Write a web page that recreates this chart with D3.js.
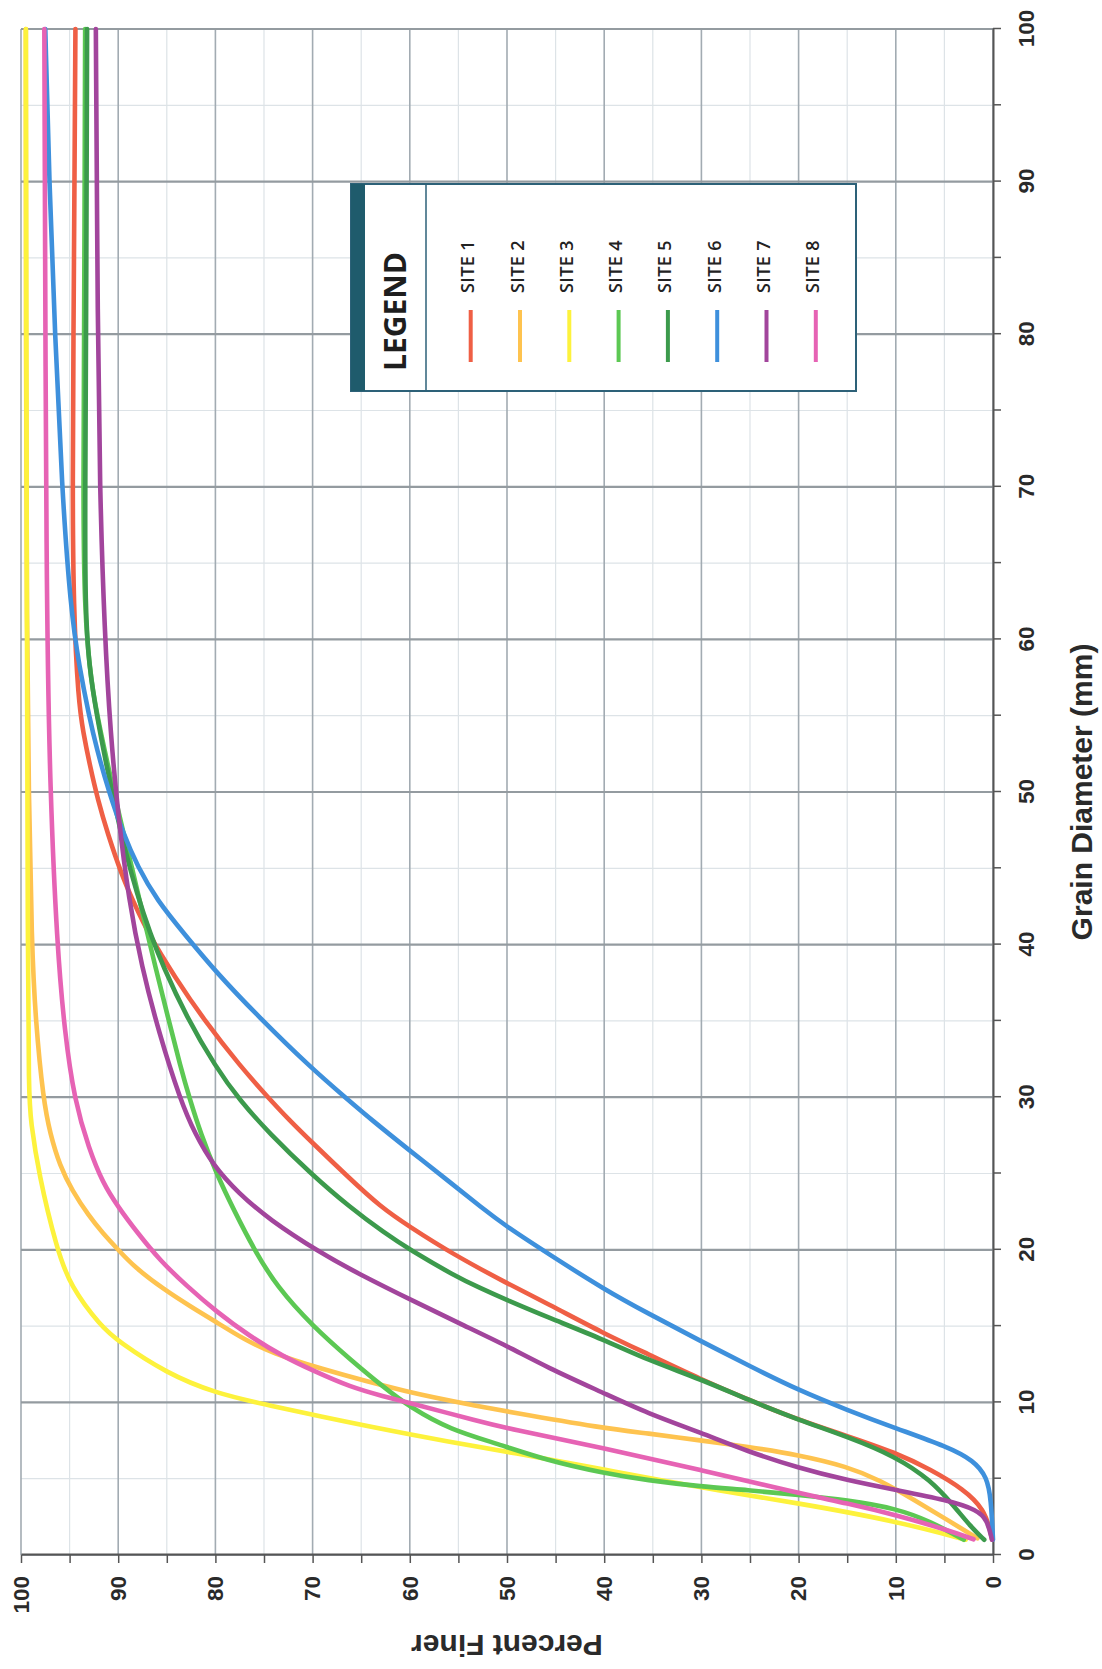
<!DOCTYPE html>
<html><head><meta charset="utf-8">
<script src="https://cdn.jsdelivr.net/npm/d3@7"></script>
<style>body{margin:0;background:#fff}</style>
</head><body>
<svg id="chart" width="1102" height="1669"></svg>
<script>
// ---------- data: [grain diameter (mm), percent finer] ----------
const siteNames = ["SITE 1","SITE 2","SITE 3","SITE 4","SITE 5","SITE 6","SITE 7","SITE 8"];
const siteColors = ["#ef5f45","#fec34f","#fdf23c","#5cc853","#3c9a4c","#3e90dc","#a2459c","#e663b4"];
const gridTicks = [0,5,10,15,20,25,30,35,40,45,50,55,60,65,70,75,80,85,90,95,100];
const labelTicks = [0,10,20,30,40,50,60,70,80,90,100];

const site1 = [[1.0,0.1],[1.4,0.2],[3.0,0.9],[4.3,3],[5.6,6.4],[6.7,10],[7.8,15],[8.85,20],[10.2,25.3],[11.5,30],[13.2,35.6],[14.5,40],[16.5,45.9],[17.8,50],[19.8,55.8],[21.5,60],[22.8,63.0],[24.8,66.4],[27,70.0],[28.5,72.4],[30,74.6],[32,77.4],[35,81.1],[37.9,84.2],[40.7,86.9],[42.9,88.5],[44.5,89.6],[47.3,91.1],[49.5,92.1],[51.7,92.9],[53.9,93.6],[56,94.1],[62,94.6],[70,94.7],[80,94.6],[90,94.5],[100,94.4]];
const site2 = [[1.1,1.6],[2.3,4.7],[3.6,8.1],[4.9,11.6],[5.8,15],[6.56,20],[7.1,25.3],[7.5,30],[7.98,35.6],[8.3,40],[9.4,50],[9.73,52.7],[10.6,60],[12.35,70],[13.2,74],[14.1,77],[15.3,80],[16.3,82.6],[17.4,85.3],[18.9,88.4],[20,90],[21.1,91.6],[22.2,93.0],[23.9,94.75],[25.5,96],[27.6,97],[29.8,97.7],[35,98.5],[40,98.9],[50,99.2],[60,99.4],[80,99.5],[100,99.5]];
const site3 = [[1.0,2.8],[2.2,9.8],[3.4,20],[4.4,30],[5.6,40],[6.6,48.5],[7.87,60],[9.18,70],[9.84,74.7],[10.6,80],[11.9,85],[14,90],[15,91.8],[17.6,94.9],[20,96.3],[25,98.2],[28.5,99.0],[30,99.2],[40,99.3],[60,99.4],[100,99.5]];
const site4 = [[1.0,3],[2.2,6.4],[3.06,10],[3.6,15],[3.93,20],[4.26,25.3],[4.48,30],[4.9,35.6],[5.36,40],[6.2,45.9],[7.3,51],[8.2,55.8],[9.7,60],[11,62.7],[12.8,66.1],[15,70],[17.6,73.7],[20,76],[22.6,78.1],[25,79.9],[27.6,81.5],[29.8,82.6],[32,83.6],[35.3,84.9],[38.6,86.2],[41.8,87.4],[45.1,88.6],[47.7,89.6],[50.4,90.6],[53.9,91.8],[57.1,92.8],[62,93.5],[70,93.6],[80,93.5],[100,93.4]];
const site5 = [[1.0,0.9],[1.86,2.3],[3.2,4],[4.9,6.4],[6.45,10],[7.76,15],[8.85,20],[10.2,25.3],[11.5,30],[12.8,35.6],[14.1,40],[15.6,45.9],[16.7,50],[17.5,52.8],[18.3,55.4],[20,60],[21.1,62.6],[22.8,66.2],[25,70.2],[27.6,74.4],[29.8,77.5],[32,80.0],[35.3,83.0],[38.6,85.4],[40.7,86.7],[43.4,88.1],[46.2,89.3],[48.4,90.1],[51.7,91.2],[55,92.2],[58.2,93.0],[62,93.4],[70,93.4],[80,93.3],[100,93.2]];
const site6 = [[1.0,0],[3.6,0.2],[5.1,0.6],[6.2,2],[7.1,4.7],[8.3,10],[9.5,15],[10.8,20],[12.3,24.8],[14.1,30.3],[15.8,35.4],[17.4,40],[19.8,45.9],[21.5,50],[22.8,52.7],[24.4,55.8],[26.6,60.2],[28.5,63.9],[29.8,66.3],[32,70.3],[35.3,75.6],[38.1,79.8],[40.7,83.2],[42.9,86.0],[45.1,88.0],[47.3,89.5],[50.1,91.0],[52.8,92.2],[55,93.0],[58.2,94.0],[62,94.9],[70,95.8],[80,96.5],[90,97.1],[100,97.5]];
const site7 = [[1.0,0.1],[2.3,0.6],[2.95,1.6],[3.6,4.7],[4.26,10],[4.9,15],[5.7,20],[6.8,25.3],[8.0,30],[9.3,35.6],[10.6,40],[12.3,45.9],[13.7,50],[15,54.3],[16.5,59.2],[18.5,65.5],[19.8,69.2],[22,74.5],[23.7,77.6],[25.5,80.2],[27.6,82.1],[29.8,83.6],[34.2,85.8],[38.6,87.6],[42.9,88.9],[48.4,90.0],[53.9,90.8],[60.4,91.4],[70,91.9],[80,92.1],[100,92.3]];
const site8 = [[1.03,2],[1.64,4.7],[2.62,10],[3.39,15],[4.04,20],[5.57,30],[7.0,40],[8.3,50],[8.74,52.7],[9.95,60],[10.4,62.7],[11,66.1],[12.1,70],[13,73],[14.3,76.4],[16,80],[17.6,82.9],[19.3,85.7],[21.1,88.0],[22.8,90],[24.4,91.6],[26.6,93.0],[29.8,94.5],[34.2,95.5],[40,96.3],[50,97],[62,97.4],[100,97.6]];
const allSites = [site1,site2,site3,site4,site5,site6,site7,site8];

// ---------- layout (chart drawn upright, then rotated -90deg) ----------
const W = 1526, H = 972;
const svg = d3.select("#chart");
svg.append("rect").attr("width",1102).attr("height",1669).attr("fill","#fff");
const g = svg.append("g").attr("transform","translate(21,1555) rotate(-90)");

const x = d3.scaleLinear().domain([0,100]).range([0,W]);
const y = d3.scaleLinear().domain([0,100]).range([H,0]);

// minor grid
const minorT = gridTicks.filter(d => !labelTicks.includes(d));
const majorT = gridTicks.filter(d => labelTicks.includes(d));
g.selectAll(".gxm").data(minorT).enter().append("line")
  .attr("x1",d=>x(d)).attr("x2",d=>x(d)).attr("y1",0).attr("y2",H)
  .attr("stroke","#dde3e7").attr("stroke-width",1.2);
g.selectAll(".gym").data(minorT).enter().append("line")
  .attr("y1",d=>y(d)).attr("y2",d=>y(d)).attr("x1",0).attr("x2",W)
  .attr("stroke","#dde3e7").attr("stroke-width",1.2);
// major grid
g.selectAll(".gyM").data(majorT).enter().append("line")
  .attr("y1",d=>y(d)).attr("y2",d=>y(d)).attr("x1",0).attr("x2",W)
  .attr("stroke","#a2abb2").attr("stroke-width",1.6);
g.selectAll(".gxM").data(majorT).enter().append("line")
  .attr("x1",d=>x(d)).attr("x2",d=>x(d)).attr("y1",0).attr("y2",H)
  .attr("stroke","#949ba0").attr("stroke-width",2.2);

// axes
const fmt = d => (labelTicks.includes(d) ? d : "");
const xAxis = d3.axisBottom(x).tickValues(gridTicks).tickFormat(fmt).tickSize(8).tickSizeOuter(0).tickPadding(17);
const yAxis = d3.axisLeft(y).tickValues(gridTicks).tickFormat(fmt).tickSize(8).tickSizeOuter(0).tickPadding(13);
const gx = g.append("g").attr("transform",`translate(0,${H})`).call(xAxis);
const gy = g.append("g").call(yAxis);
[gx,gy].forEach(a => {
  a.select(".domain").attr("stroke","#555").attr("stroke-width",2);
  a.selectAll(".tick line").attr("stroke","#555").attr("stroke-width",1.5);
  a.selectAll(".tick text").attr("font-family","'Liberation Sans', Arial, sans-serif")
    .attr("font-weight","bold").attr("font-size",22.5).attr("fill","#2a2a2a");
});

// series lines
const line = d3.line().x(d=>x(d[0])).y(d=>y(d[1])).curve(d3.curveBasis);
allSites.forEach((s,i) => {
  g.append("path").datum(s).attr("d",line).attr("fill","none")
    .attr("stroke",siteColors[i]).attr("stroke-width",4.6)
    .attr("stroke-linejoin","round").attr("stroke-linecap","round");
});

// axis titles
g.append("text").attr("x",W/2).attr("y",1071).attr("text-anchor","middle")
  .attr("font-family","'Liberation Sans', Arial, sans-serif").attr("font-weight","bold")
  .attr("font-size",30).attr("fill","#2a2a2a").text("Grain Diameter (mm)");
g.append("text").attr("transform",`translate(-80,${H/2}) rotate(-90)`).attr("text-anchor","middle")
  .attr("font-family","'Liberation Sans', Arial, sans-serif").attr("font-weight","bold")
  .attr("font-size",30).attr("fill","#2a2a2a").text("Percent Finer");

// legend
const lg = g.append("g");
lg.append("rect").attr("x",1164).attr("y",330).attr("width",207).attr("height",505)
  .attr("fill","#fff").attr("stroke","#2d6178").attr("stroke-width",2);
lg.append("rect").attr("x",1164).attr("y",330).attr("width",207).attr("height",14).attr("fill","#1f5b6c");
lg.append("line").attr("x1",1164).attr("x2",1371).attr("y1",405).attr("y2",405)
  .attr("stroke","#2d6178").attr("stroke-width",1.5);
lg.append("text").attr("x",1184).attr("y",385).attr("font-family","'Open Sans', sans-serif")
  .attr("font-weight","bold").attr("font-size",30).attr("fill","#1e1e1e").text("LEGEND");
siteNames.forEach((n,i) => {
  const cy = 449.7 + i*49.3;
  lg.append("line").attr("x1",1193).attr("x2",1245).attr("y1",cy).attr("y2",cy)
    .attr("stroke",siteColors[i]).attr("stroke-width",4);
  lg.append("text").attr("x",1262).attr("y",cy+3.5).attr("font-family","'Open Sans', sans-serif")
    .attr("font-weight",600).attr("font-size",18).attr("letter-spacing",0.4).attr("fill","#222").text(n);
});
</script>
</body></html>
